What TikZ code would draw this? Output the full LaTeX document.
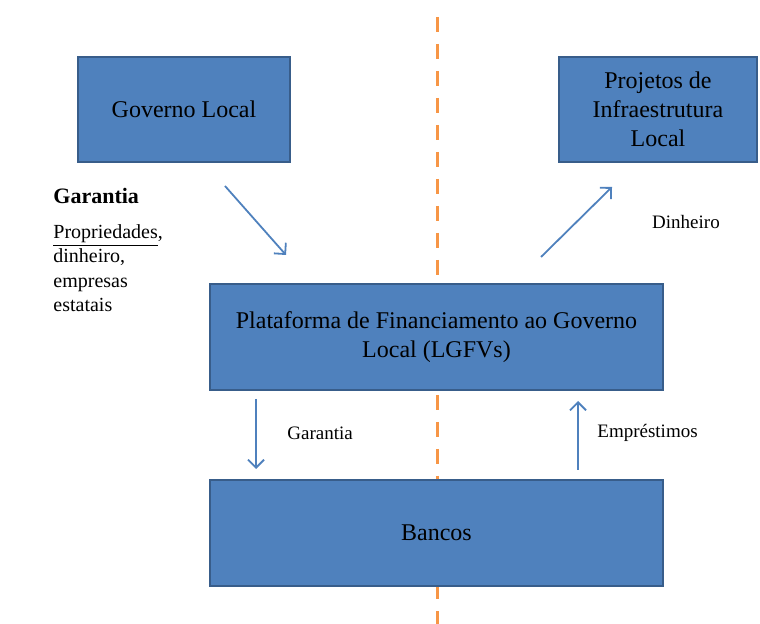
\documentclass[tikz,border=0pt]{standalone}
\usepackage{fontspec}
\setmainfont{Liberation Serif}
\usetikzlibrary{arrows.meta,calc,positioning}
\definecolor{bx}{HTML}{4F81BD}
\definecolor{bxline}{HTML}{385D8A}
\definecolor{cut}{HTML}{F79646}

\begin{document}
\begin{tikzpicture}[x=0.5pt,y=-0.5pt,font=\fontsize{12}{14.5}\selectfont,
  box/.style={draw=bxline,line width=1pt,fill=bx,align=center,inner sep=0pt},
  arr/.style={-{Straight Barb[length=4pt,width=8pt]},line width=0.9pt,draw=bx},
  lbl/.style={font=\fontsize{9.5}{12}\selectfont,inner sep=0pt}]
  \useasboundingbox (0,0) rectangle (760,624);
  \draw[cut,line width=1.5pt,dash pattern=on 7.5pt off 6pt] (437,17) -- (437,624);
  \node[box,minimum width=106pt,minimum height=52.5pt] (gov) at (184,109.5) {Governo Local};
  \node[box,minimum width=99pt,minimum height=52.5pt] (proj) at (658,109.5) {Projetos de\\Infraestrutura\\Local};
  \node[box,minimum width=226.5pt,minimum height=53pt] (plat) at (436.5,337) {Plataforma de Financiamento ao Governo\\Local (LGFVs)};
  \node[box,minimum width=226.5pt,minimum height=53pt] (banc) at (436.5,533) {Bancos};
  \node[lbl,anchor=north west,align=left,font=\fontsize{10}{12.25}\selectfont] (colat) at (53,188)
    {{\fontsize{11}{13}\selectfont\bfseries Garantia}\\[5pt]\underline{Propriedades},\\dinheiro,\\empresas\\estatais};
  \node[lbl] (din) at (686,222) {Dinheiro};
  \node[lbl,anchor=west] (gar) at (287,433) {Garantia};
  \node[lbl,anchor=west] (emp) at (597,433) {Empréstimos};
  \coordinate (g1) at ($(gov.south)+(41,23)$);
  \coordinate (g2) at ($(plat.north west)+(77,-28)$);
  \coordinate (d1) at ($(plat.north east)+(-123,-26)$);
  \coordinate (d2) at ($(proj.south west)+(54,24)$);
  \coordinate (p1) at ($(plat.south west)+(47,8)$);
  \coordinate (p2) at ($(banc.north west)+(47,-10)$);
  \coordinate (e1) at ($(banc.north east)+(-86,-9)$);
  \coordinate (e2) at ($(plat.south east)+(-86,10)$);
  \draw[arr] (g1) -- (g2); \draw[arr] (d1) -- (d2);
  \draw[arr] (p1) -- (p2); \draw[arr] (e1) -- (e2);
\end{tikzpicture}
\end{document}
